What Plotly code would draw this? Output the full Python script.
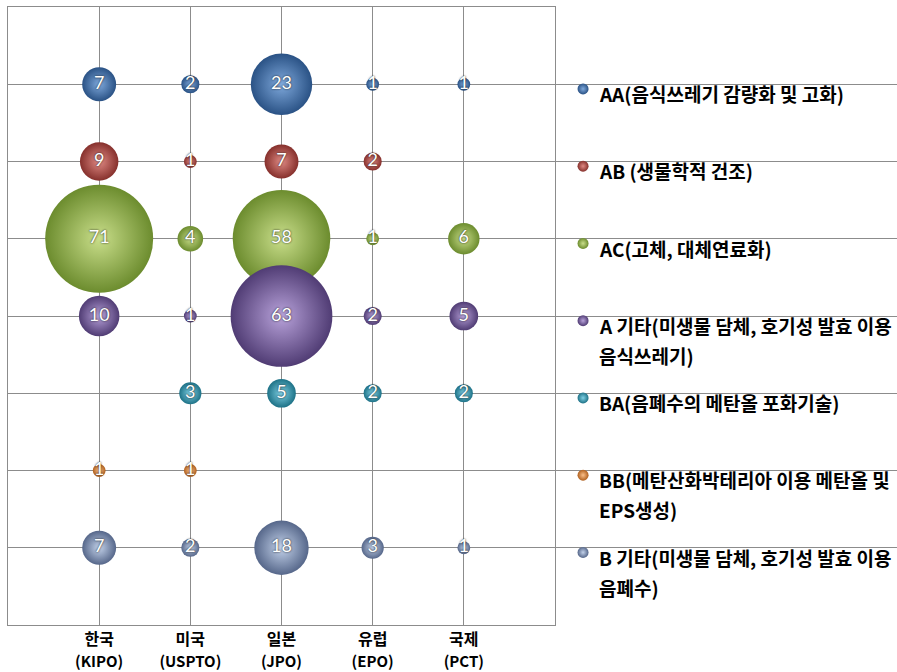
import plotly.graph_objects as go

categories = ["한국", "미국", "일본", "유럽", "국제"]
category_codes = ["(KIPO)", "(USPTO)", "(JPO)", "(EPO)", "(PCT)"]

series_names = ["AA", "AB", "AC", "A 기타", "BA", "BB", "B 기타"]
legend_lines = [
    ["AA(음식쓰레기 감량화 및 고화)"],
    ["AB (생물학적 건조)"],
    ["AC(고체, 대체연료화)"],
    ["A 기타(미생물 담체, 호기성 발효 이용", "음식쓰레기)"],
    ["BA(음폐수의 메탄올 포화기술)"],
    ["BB(메탄산화박테리아 이용 메탄올 및", "EPS생성)"],
    ["B 기타(미생물 담체, 호기성 발효 이용", "음폐수)"],
]
row_levels = [7, 6, 5, 4, 3, 2, 1]

AA = [7, 2, 23, 1, 1]
AB = [9, 1, 7, 2, None]
AC = [71, 4, 58, 1, 6]
A_other = [10, 1, 63, 2, 5]
BA = [None, 3, 5, 2, 2]
BB = [1, 1, None, None, None]
B_other = [7, 2, 18, 3, 1]
series_values = [AA, AB, AC, A_other, BA, BB, B_other]

edge_colors = ["#2A5285", "#86302C", "#6C8C2E", "#503C74", "#1E7287", "#B0601E", "#56678A"]
center_colors = ["#7FA9DC", "#E08A84", "#C9DE8A", "#B8A2DA", "#7FD0E4", "#FBC08A", "#C3D2EA"]

X_MAX = 6
Y_MAX = 8
main_frac = 547 / 889
max_diam = 108
sizeref = 2 * 71 / max_diam ** 2

fig = go.Figure()

for name, vals, lvl, ec, cc in zip(series_names, series_values, row_levels, edge_colors, center_colors):
    xs, ys, ss, ts = [], [], [], []
    for i, v in enumerate(vals):
        if v is None:
            continue
        xs.append(i + 1)
        ys.append(lvl)
        ss.append(v)
        ts.append(str(v))
    fig.add_trace(go.Scatter(
        x=xs, y=ys, mode="markers+text", text=ts,
        textposition="middle center",
        textfont=dict(family="Lato, Open Sans, sans-serif", size=18, color="white",
                      shadow="0px 0px 2px #111111"),
        marker=dict(size=ss, sizemode="area", sizeref=sizeref, sizemin=2,
                    color=ec, opacity=1,
                    gradient=dict(type="radial", color=cc),
                    line=dict(width=0)),
        name=name, showlegend=False, cliponaxis=False,
    ))

# invisible trace on the second-line category axis
fig.add_trace(go.Scatter(x=[1, 5], y=[None, None], xaxis="x3", yaxis="y",
                         mode="markers", showlegend=False, hoverinfo="skip"))

# legend markers on a secondary x axis
fig.add_trace(go.Scatter(
    x=[0.082] * len(series_names), y=[lvl - 0.06 for lvl in row_levels],
    xaxis="x2", yaxis="y", mode="markers",
    marker=dict(size=11, color=edge_colors, gradient=dict(type="radial", color=center_colors),
                line=dict(width=0)),
    showlegend=False, hoverinfo="skip", cliponaxis=False,
))

annotations = []
for lines, lvl in zip(legend_lines, row_levels):
    for k, line in enumerate(lines):
        annotations.append(dict(
            x=0.123, y=lvl - 0.12 - k * 0.39, xref="x2", yref="y",
            text=line, showarrow=False, xanchor="left", yanchor="middle",
            font=dict(family="Noto Sans CJK KR", size=19, color="black", weight="bold"),
        ))

fig.update_layout(
    width=897, height=672,
    margin=dict(l=8, r=0, t=7, b=47),
    paper_bgcolor="white", plot_bgcolor="white",
    xaxis=dict(domain=[0, main_frac], range=[0, X_MAX],
               tickmode="array", tickvals=[1, 2, 3, 4, 5],
               ticktext=categories,
               tickfont=dict(family="Noto Sans CJK KR", size=16, color="black", weight="bold"),
               showgrid=True, gridcolor="#8c8c8c", gridwidth=1,
               showline=True, linecolor="#8c8c8c", linewidth=1, mirror=True,
               zeroline=False, ticks="", fixedrange=True),
    xaxis3=dict(overlaying="x", anchor="y", side="bottom", range=[0, X_MAX],
                tickmode="array", tickvals=[1, 2, 3, 4, 5],
                ticktext=category_codes, ticklabelstandoff=26,
                tickfont=dict(family="Noto Sans CJK KR", size=15, color="black", weight="bold"),
                showgrid=False, showline=False, zeroline=False, ticks="", fixedrange=True),
    yaxis=dict(range=[0, Y_MAX], tickmode="array", tickvals=[1, 2, 3, 4, 5, 6, 7],
               showticklabels=False,
               showgrid=True, gridcolor="#8c8c8c", gridwidth=1,
               showline=True, linecolor="#8c8c8c", linewidth=1, mirror=True,
               zeroline=False, ticks="", fixedrange=True),
    xaxis2=dict(domain=[main_frac, 1], range=[0, 1], anchor="y", visible=False,
                showgrid=False, zeroline=False, fixedrange=True),
    annotations=annotations,
    showlegend=False,
)

fig.write_html("out.html")
